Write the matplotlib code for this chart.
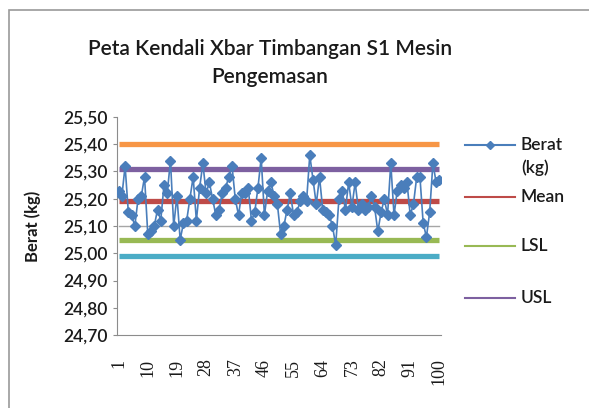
import matplotlib

matplotlib.use("Agg")

import matplotlib.pyplot as plt
import numpy as np
from matplotlib.lines import Line2D
from matplotlib.patches import Rectangle


TITLE = "Peta Kendali Xbar Timbangan S1 Mesin\nPengemasan"
Y_LABEL = "Berat (kg)"

BERAT = [
    25.23, 25.21, 25.32, 25.15, 25.14, 25.10, 25.20, 25.21, 25.28, 25.07,
    25.08, 25.10, 25.16, 25.12, 25.25, 25.22, 25.34, 25.10, 25.21, 25.05,
    25.11, 25.12, 25.20, 25.28, 25.12, 25.24, 25.33, 25.22, 25.26, 25.20,
    25.14, 25.16, 25.22, 25.24, 25.28, 25.32, 25.20, 25.14, 25.22, 25.22,
    25.24, 25.12, 25.15, 25.24, 25.35, 25.14, 25.23, 25.26, 25.21, 25.18,
    25.07, 25.10, 25.16, 25.22, 25.14, 25.15, 25.19, 25.21, 25.19, 25.36,
    25.27, 25.18, 25.28, 25.16, 25.15, 25.14, 25.10, 25.03, 25.20, 25.23,
    25.16, 25.26, 25.17, 25.26, 25.16, 25.18, 25.16, 25.17, 25.21, 25.17,
    25.08, 25.15, 25.20, 25.14, 25.33, 25.14, 25.23, 25.25, 25.24, 25.26,
    25.14, 25.18, 25.28, 25.28, 25.11, 25.06, 25.15, 25.33, 25.26, 25.27,
]
MEAN = 25.19
LSL = 25.05
USL = 25.31
UPPER_LINE = 25.40
LOWER_LINE = 24.99
GRAY_LINE = 25.10

X_TICKS = list(range(1, 101, 9))
Y_TICKS = [24.70, 24.80, 24.90, 25.00, 25.10, 25.20, 25.30, 25.40, 25.50]

LEGEND_LABELS = ["Berat\n(kg)", "Mean", "LSL", "USL"]
LEGEND_Y_PX = [145, 197, 246, 298]

BLUE = "#4A7EBB"
RED = "#BE4B48"
GREEN = "#98B954"
PURPLE = "#7D60A0"
ORANGE = "#F79646"
CYAN = "#4BACC6"
TEXT = "#1a1a1a"
FONT = "Lato"


def main():
    fig = plt.figure(figsize=(5.89, 4.08), dpi=100)
    fig.patch.set_facecolor("white")
    fig.patches.append(
        Rectangle((9 / 589, -0.05), 1.0, 1 - 10 / 408 + 0.05,
                  transform=fig.transFigure, fill=False,
                  edgecolor="#9a9a9a", linewidth=1.2)
    )

    ax = fig.add_axes([117 / 589, 1 - 335 / 408, 324 / 589, 218 / 408])
    x = np.arange(1, len(BERAT) + 1)
    n = len(BERAT)

    ref_lines = [
        (UPPER_LINE, ORANGE),
        (USL, PURPLE),
        (MEAN, RED),
        (LSL, GREEN),
        (LOWER_LINE, CYAN),
    ]
    ax.plot(x, [GRAY_LINE] * n, color="#a6a6a6", linewidth=1.0, zorder=2)
    for value, color in ref_lines:
        ax.plot(x, [value] * n, color=color, linewidth=3.8,
                solid_capstyle="butt", zorder=2)

    ax.plot(x, BERAT, color=BLUE, linewidth=1.2, marker="D",
            markersize=5, markerfacecolor=BLUE, markeredgecolor=BLUE,
            zorder=3)

    ax.set_xlim(0.5, 100.5)
    ax.set_ylim(24.70, 25.50)
    ax.set_xticks(X_TICKS)
    ax.set_xticklabels([str(t) for t in X_TICKS], rotation=90,
                       fontfamily="Liberation Serif", fontsize=13, color=TEXT)
    ax.set_yticks(Y_TICKS)
    ax.set_yticklabels([f"{t:.2f}".replace(".", ",") for t in Y_TICKS],
                       fontfamily=FONT, fontweight="semibold", fontsize=12.5,
                       color=TEXT)
    ax.tick_params(axis="x", length=0, pad=17)
    ax.tick_params(axis="y", length=3, color="#8c8c8c", pad=4)
    for side in ["top", "right"]:
        ax.spines[side].set_visible(False)
    for side in ["left", "bottom"]:
        ax.spines[side].set_color("#8c8c8c")

    ax.set_ylabel(Y_LABEL, fontfamily=FONT, fontweight="bold", fontsize=12,
                  color=TEXT, labelpad=16)
    fig.text(270 / 589, 1 - 63 / 408, TITLE, ha="center", va="center",
             fontfamily=FONT, fontweight="semibold", fontsize=15,
             color=TEXT, linespacing=1.5)

    colors = [BLUE, RED, GREEN, PURPLE]
    for i, (label, ypx, color) in enumerate(zip(LEGEND_LABELS, LEGEND_Y_PX, colors)):
        yf = 1 - ypx / 408
        fig.lines.append(Line2D([465 / 589, 515 / 589], [yf, yf],
                                transform=fig.transFigure, color=color,
                                linewidth=1.5))
        if i == 0:
            fig.lines.append(Line2D([490 / 589], [yf], transform=fig.transFigure,
                                    color=color, marker="D", markersize=4.5))
        fig.text(521 / 589, yf + 8 / 408, label, ha="left", va="top",
                 fontfamily=FONT, fontweight="semibold", fontsize=12.5,
                 color=TEXT, linespacing=1.5)

    fig.savefig("out.png", dpi=100)
    plt.close(fig)


if __name__ == "__main__":
    main()
